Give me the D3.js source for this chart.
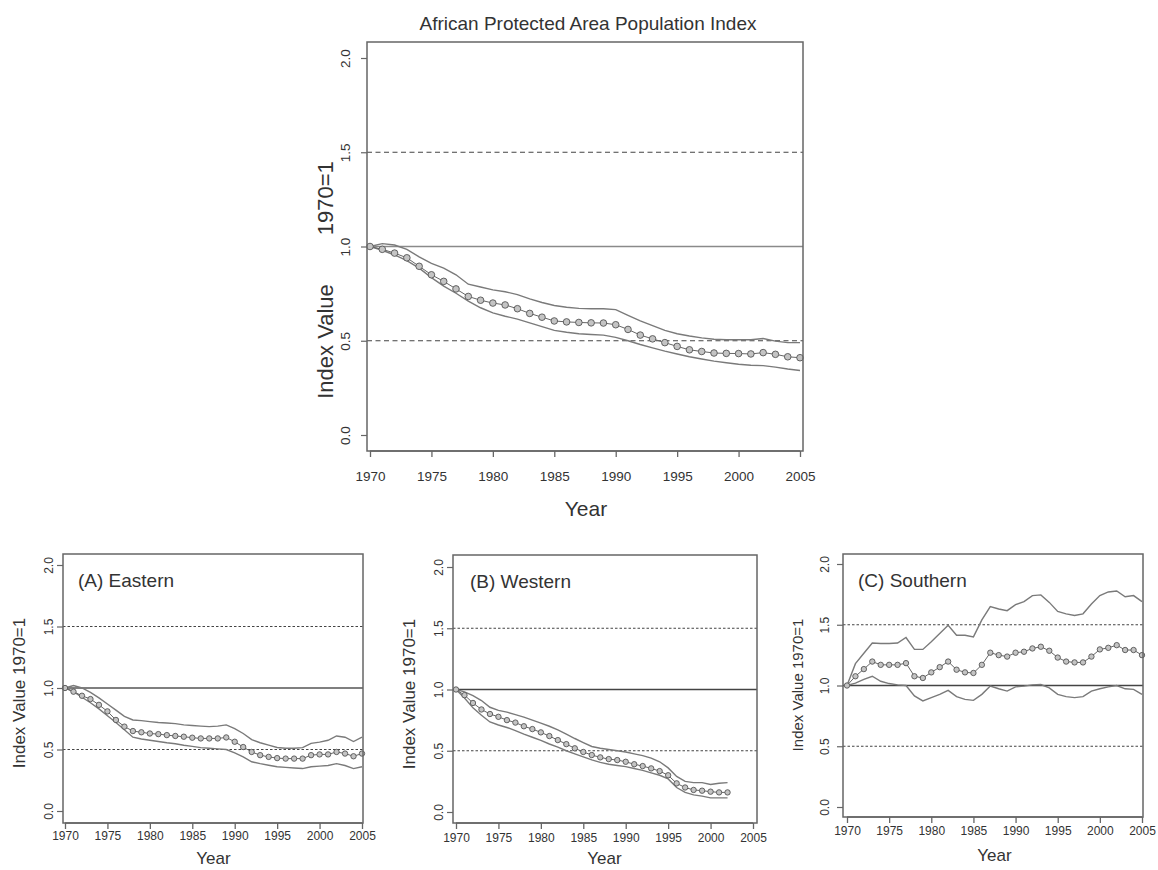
<!DOCTYPE html>
<html>
<head>
<meta charset="utf-8">
<script src="https://cdn.jsdelivr.net/npm/d3@7"></script>
<style>
  body { margin: 0; background: #fff; }
  svg { font-family: "Liberation Sans", Arial, sans-serif; }
</style>
</head>
<body>
<svg id="chart" width="1158" height="870"></svg>
<script>
// ---- data (index value, 1970 = 1) ----
var years = d3.range(1970, 2006);
var yearsWest = d3.range(1970, 2003);
var xTicks = [1970, 1975, 1980, 1985, 1990, 1995, 2000, 2005];
var yTicks = [0, 0.5, 1, 1.5, 2];

var allMean = [1.00, 0.985, 0.965, 0.94, 0.895, 0.85, 0.815, 0.775, 0.735, 0.715, 0.70, 0.69,
  0.67, 0.645, 0.625, 0.605, 0.60, 0.597, 0.595, 0.594, 0.585, 0.56, 0.53, 0.51, 0.49, 0.47,
  0.452, 0.443, 0.435, 0.433, 0.432, 0.43, 0.437, 0.428, 0.415, 0.41];
var allUpper = [1.00, 1.015, 1.008, 0.985, 0.945, 0.91, 0.885, 0.85, 0.80, 0.785, 0.77, 0.76,
  0.745, 0.722, 0.703, 0.687, 0.678, 0.672, 0.67, 0.67, 0.665, 0.635, 0.605, 0.58, 0.555, 0.537,
  0.525, 0.515, 0.508, 0.505, 0.505, 0.505, 0.512, 0.498, 0.49, 0.49];
var allLower = [1.00, 0.98, 0.955, 0.925, 0.885, 0.835, 0.79, 0.752, 0.71, 0.675, 0.648, 0.63,
  0.615, 0.595, 0.575, 0.555, 0.545, 0.537, 0.533, 0.53, 0.518, 0.50, 0.48, 0.462, 0.445, 0.43,
  0.415, 0.403, 0.392, 0.383, 0.375, 0.37, 0.368, 0.36, 0.35, 0.342];

var eastMean = [1.00, 0.97, 0.937, 0.91, 0.863, 0.81, 0.74, 0.686, 0.65, 0.64, 0.63, 0.625,
  0.617, 0.61, 0.604, 0.596, 0.59, 0.59, 0.59, 0.598, 0.563, 0.52, 0.48, 0.454, 0.44, 0.43,
  0.426, 0.426, 0.426, 0.454, 0.46, 0.46, 0.48, 0.467, 0.445, 0.467];
var eastUpper = [1.00, 1.02, 1.00, 0.965, 0.92, 0.87, 0.82, 0.77, 0.74, 0.735, 0.727, 0.72,
  0.715, 0.71, 0.70, 0.695, 0.69, 0.686, 0.69, 0.70, 0.67, 0.63, 0.58, 0.555, 0.535, 0.516,
  0.51, 0.51, 0.515, 0.55, 0.56, 0.575, 0.61, 0.60, 0.565, 0.60];
var eastLower = [1.00, 0.97, 0.925, 0.88, 0.83, 0.775, 0.72, 0.66, 0.60, 0.585, 0.575, 0.565,
  0.555, 0.547, 0.535, 0.525, 0.515, 0.51, 0.505, 0.50, 0.473, 0.44, 0.40, 0.385, 0.372, 0.36,
  0.355, 0.35, 0.345, 0.36, 0.365, 0.37, 0.385, 0.37, 0.345, 0.36];

var westMean = [1.00, 0.954, 0.89, 0.837, 0.80, 0.777, 0.75, 0.73, 0.70, 0.677, 0.65, 0.62,
  0.587, 0.554, 0.52, 0.49, 0.465, 0.446, 0.432, 0.424, 0.41, 0.39, 0.375, 0.356, 0.334, 0.30,
  0.234, 0.20, 0.18, 0.174, 0.166, 0.16, 0.16];
var westUpper = [1.00, 0.98, 0.95, 0.91, 0.855, 0.83, 0.815, 0.795, 0.775, 0.75, 0.725, 0.70,
  0.67, 0.635, 0.60, 0.567, 0.535, 0.52, 0.51, 0.50, 0.49, 0.475, 0.46, 0.44, 0.41, 0.36,
  0.29, 0.25, 0.24, 0.24, 0.225, 0.235, 0.24];
var westLower = [1.00, 0.93, 0.85, 0.79, 0.735, 0.71, 0.69, 0.665, 0.635, 0.61, 0.585, 0.555,
  0.53, 0.50, 0.475, 0.45, 0.425, 0.405, 0.39, 0.38, 0.37, 0.355, 0.34, 0.32, 0.30, 0.27,
  0.20, 0.16, 0.14, 0.13, 0.115, 0.115, 0.115];

var southMean = [1.00, 1.076, 1.135, 1.197, 1.17, 1.17, 1.17, 1.184, 1.076, 1.062, 1.108, 1.151,
  1.197, 1.13, 1.108, 1.103, 1.17, 1.27, 1.25, 1.238, 1.27, 1.278, 1.305, 1.319, 1.286, 1.23,
  1.197, 1.19, 1.19, 1.238, 1.297, 1.31, 1.332, 1.292, 1.292, 1.25];
var southUpper = [1.00, 1.18, 1.265, 1.35, 1.346, 1.346, 1.35, 1.395, 1.297, 1.297, 1.36, 1.427,
  1.495, 1.414, 1.414, 1.40, 1.54, 1.65, 1.63, 1.616, 1.665, 1.69, 1.74, 1.746, 1.684, 1.61,
  1.59, 1.576, 1.59, 1.67, 1.74, 1.77, 1.778, 1.73, 1.74, 1.69];
var southLower = [1.00, 1.02, 1.05, 1.076, 1.035, 1.016, 1.005, 1.00, 0.914, 0.873, 0.90, 0.927,
  0.96, 0.908, 0.886, 0.878, 0.927, 0.995, 0.973, 0.954, 0.989, 0.995, 1.005, 1.008, 0.98, 0.927,
  0.908, 0.90, 0.908, 0.954, 0.973, 0.989, 1.00, 0.973, 0.968, 0.927];

// ---- layout ----
var svg = d3.select("#chart");

var panels = [
  { yrs: years, mean: allMean, upper: allUpper, lower: allLower, title: null,
    box: [367, 42, 803, 451], x0: 370, x1: 800, y0: 435, y2: 58, r: 3.3, dash: "5,3.5",
    xlabY: 481, yearY: 516, yearSize: 21, ytitle: "Index Value        1970=1", ytitleX: 333, ytitleSize: 22,
    ytitleY: 280, ylabOff: 17, tickSize: 13.5, refMid: "#8a8a8a" },
  { yrs: years, mean: eastMean, upper: eastUpper, lower: eastLower, title: "(A) Eastern",
    box: [63, 554, 363, 823], x0: 65, x1: 362, y0: 811, y2: 565, r: 2.7, dash: "2.5,2",
    xlabY: 840, yearY: 864, yearSize: 17, ytitle: "Index Value 1970=1", ytitleX: 25, ytitleSize: 17,
    ytitleY: 693, ylabOff: 10, tickSize: 12, refMid: "#555", clip: 376, labX: 78, labY: 587 },
  { yrs: yearsWest, mean: westMean, upper: westUpper, lower: westLower, title: "(B) Western",
    box: [453, 555, 757, 823], x0: 456, x1: 753, y0: 812, y2: 567, r: 2.7, dash: "2.5,2",
    xlabY: 842, yearY: 864, yearSize: 17, ytitle: "Index Value 1970=1", ytitleX: 415, ytitleSize: 17,
    ytitleY: 694, ylabOff: 10, tickSize: 12, refMid: "#444", labX: 470, labY: 588 },
  { yrs: years, mean: southMean, upper: southUpper, lower: southLower, title: "(C) Southern",
    box: [843, 554, 1143, 817], x0: 847, x1: 1142, y0: 807, y2: 564, r: 2.7, dash: "2.5,2",
    xlabY: 835, yearY: 861, yearSize: 17, ytitle: "Index Value 1970=1", ytitleX: 803, ytitleSize: 15,
    ytitleY: 685, ylabOff: 14, tickSize: 12, refMid: "#444", labX: 858, labY: 587 }
];

// main title
svg.append("text")
  .attr("x", 588).attr("y", 30)
  .attr("text-anchor", "middle")
  .style("font-size", "19px")
  .style("fill", "#333")
  .text("African Protected Area Population Index");

panels.forEach(function(p, i) {
  var b = p.box;
  var x = d3.scaleLinear().domain([1970, 2005]).range([p.x0, p.x1]);
  var y = d3.scaleLinear().domain([0, 2]).range([p.y0, p.y2]);
  var g = svg.append("g");

  if (p.clip) {
    svg.append("clipPath").attr("id", "clip" + i)
      .append("rect").attr("x", 0).attr("y", 0).attr("width", p.clip).attr("height", 870);
    g.attr("clip-path", "url(#clip" + i + ")");
  }

  // reference lines
  [0.5, 1.5].forEach(function(v) {
    g.append("line")
      .attr("x1", b[0]).attr("x2", b[2])
      .attr("y1", y(v)).attr("y2", y(v))
      .attr("stroke", "#444").attr("stroke-width", 1.2)
      .attr("stroke-dasharray", p.dash);
  });
  g.append("line")
    .attr("x1", b[0]).attr("x2", b[2])
    .attr("y1", y(1)).attr("y2", y(1))
    .attr("stroke", p.refMid).attr("stroke-width", 1.3);

  var line = d3.line()
    .x(function(d) { return x(d[0]); })
    .y(function(d) { return y(d[1]); });

  [p.upper, p.lower].forEach(function(s) {
    g.append("path")
      .datum(p.yrs.map(function(yr, k) { return [yr, s[k]]; }))
      .attr("d", line)
      .attr("fill", "none")
      .attr("stroke", "#7a7a7a")
      .attr("stroke-width", 1.4);
  });

  var meanPts = p.yrs.map(function(yr, k) { return [yr, p.mean[k]]; });
  g.append("path")
    .datum(meanPts)
    .attr("d", line)
    .attr("fill", "none")
    .attr("stroke", "#666")
    .attr("stroke-width", 1);

  g.selectAll("circle.pt")
    .data(meanPts)
    .enter().append("circle")
    .attr("class", "pt")
    .attr("cx", function(d) { return x(d[0]); })
    .attr("cy", function(d) { return y(d[1]); })
    .attr("r", p.r)
    .attr("fill", "#c4c4c4")
    .attr("stroke", "#555")
    .attr("stroke-width", 0.9);

  // box
  g.append("rect")
    .attr("x", b[0]).attr("y", b[1])
    .attr("width", b[2] - b[0]).attr("height", b[3] - b[1])
    .attr("fill", "none").attr("stroke", "#666").attr("stroke-width", 1.5);

  // x axis
  var xa = g.append("g")
    .attr("transform", "translate(0," + b[3] + ")")
    .call(d3.axisBottom(x).tickValues(xTicks).tickFormat(d3.format("d")).tickSize(6).tickSizeOuter(0));
  xa.select(".domain").attr("stroke", "#666").attr("stroke-width", 1.5)
    .attr("d", "M" + x(1970) + ",0H" + x(2005));
  xa.selectAll(".tick line").attr("stroke", "#666").attr("stroke-width", 1.3);
  xa.selectAll(".tick text")
    .attr("y", p.xlabY - b[3]).attr("dy", 0)
    .style("font-size", p.tickSize + "px")
    .style("font-family", "'Liberation Sans', Arial, sans-serif")
    .style("fill", "#333");

  // y axis
  var ya = g.append("g")
    .attr("transform", "translate(" + b[0] + ",0)")
    .call(d3.axisLeft(y).tickValues(yTicks).tickFormat(d3.format(".1f")).tickSize(6).tickSizeOuter(0));
  ya.select(".domain").remove();
  ya.selectAll(".tick line").attr("stroke", "#666").attr("stroke-width", 1.2);
  ya.selectAll(".tick text")
    .attr("x", 0).attr("y", -p.ylabOff).attr("dy", 0)
    .attr("transform", "rotate(-90)")
    .style("text-anchor", "middle")
    .style("font-size", p.tickSize + "px")
    .style("font-family", "'Liberation Sans', Arial, sans-serif")
    .style("fill", "#333");

  // axis titles
  svg.append("text")
    .attr("x", (p.x0 + p.x1) / 2 + (i === 0 ? 1 : 0))
    .attr("y", p.yearY)
    .attr("text-anchor", "middle")
    .style("font-size", p.yearSize + "px")
    .style("fill", "#333")
    .text("Year");

  svg.append("text")
    .attr("transform", "translate(" + p.ytitleX + "," + p.ytitleY + ") rotate(-90)")
    .attr("text-anchor", "middle")
    .style("font-size", p.ytitleSize + "px")
    .style("fill", "#333")
    .style("white-space", "pre")
    .text(p.ytitle);

  if (p.title) {
    svg.append("text")
      .attr("x", p.labX).attr("y", p.labY)
      .style("font-size", "19px")
      .style("fill", "#333")
      .text(p.title);
  }
});
</script>
</body>
</html>
